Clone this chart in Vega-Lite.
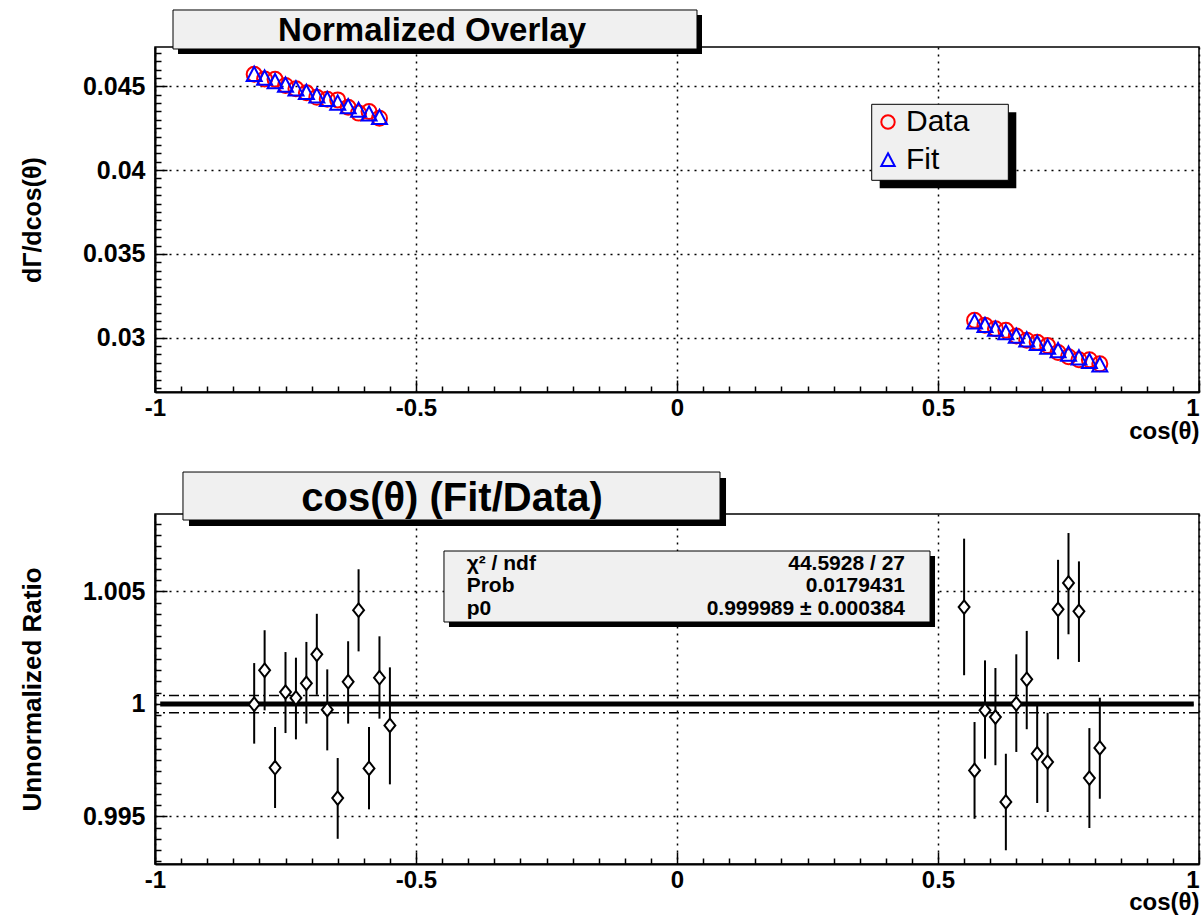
{
  "$schema": "https://vega.github.io/schema/vega-lite/v6.json",
  "background": "white",
  "autosize": {"type": "pad"},
  "padding": {"left": 18, "top": 8, "right": 0, "bottom": 0},
  "bounds": "flush",
  "spacing": 122,
  "config": {
    "font": "Liberation Sans",
    "view": {"stroke": "black", "strokeWidth": 1.5, "fill": "white"},
    "axis": {
      "labelFont": "Liberation Sans", "labelFontWeight": "bold", "labelColor": "black", "labelFontSize": 25,
      "titleFont": "Liberation Sans", "titleFontWeight": "bold", "titleColor": "black",
      "tickColor": "black", "domainColor": "black",
      "labelOverlap": false, "labelFlush": false, "labelBound": false
    }
  },
  "datasets": {
    "box": [{}],
    "title_top": [{"title": "Normalized Overlay"}],
    "title_bottom": [{"title": "cos(θ) (Fit/Data)"}],
    "stats": [{"labels": "χ² / ndf\nProb\np0", "values": "44.5928 / 27\n0.0179431\n0.999989 ± 0.000384"}],
    "fit": [{"p0": 0.999989, "lo": 0.999605, "hi": 1.000373, "xmin": -0.99, "xmax": 0.99}],
    "overlay": [
      {"series": "Data", "cos": -0.81, "value": 0.04572},
      {"series": "Data", "cos": -0.79, "value": 0.04544},
      {"series": "Data", "cos": -0.77, "value": 0.04542},
      {"series": "Data", "cos": -0.75, "value": 0.04505},
      {"series": "Data", "cos": -0.73, "value": 0.04485},
      {"series": "Data", "cos": -0.71, "value": 0.04461},
      {"series": "Data", "cos": -0.69, "value": 0.04434},
      {"series": "Data", "cos": -0.67, "value": 0.04423},
      {"series": "Data", "cos": -0.65, "value": 0.04419},
      {"series": "Data", "cos": -0.63, "value": 0.04375},
      {"series": "Data", "cos": -0.61, "value": 0.04340},
      {"series": "Data", "cos": -0.59, "value": 0.04349},
      {"series": "Data", "cos": -0.57, "value": 0.04310},
      {"series": "Data", "cos": 0.57, "value": 0.03104},
      {"series": "Data", "cos": 0.59, "value": 0.03075},
      {"series": "Data", "cos": 0.61, "value": 0.03054},
      {"series": "Data", "cos": 0.63, "value": 0.03044},
      {"series": "Data", "cos": 0.65, "value": 0.03010},
      {"series": "Data", "cos": 0.67, "value": 0.02985},
      {"series": "Data", "cos": 0.69, "value": 0.02973},
      {"series": "Data", "cos": 0.71, "value": 0.02953},
      {"series": "Data", "cos": 0.73, "value": 0.02912},
      {"series": "Data", "cos": 0.75, "value": 0.02887},
      {"series": "Data", "cos": 0.77, "value": 0.02869},
      {"series": "Data", "cos": 0.79, "value": 0.02869},
      {"series": "Data", "cos": 0.81, "value": 0.02844},
      {"series": "Fit", "cos": -0.81, "value": 0.04572},
      {"series": "Fit", "cos": -0.79, "value": 0.04550},
      {"series": "Fit", "cos": -0.77, "value": 0.04529},
      {"series": "Fit", "cos": -0.75, "value": 0.04508},
      {"series": "Fit", "cos": -0.73, "value": 0.04486},
      {"series": "Fit", "cos": -0.71, "value": 0.04465},
      {"series": "Fit", "cos": -0.69, "value": 0.04443},
      {"series": "Fit", "cos": -0.67, "value": 0.04422},
      {"series": "Fit", "cos": -0.65, "value": 0.04401},
      {"series": "Fit", "cos": -0.63, "value": 0.04379},
      {"series": "Fit", "cos": -0.61, "value": 0.04358},
      {"series": "Fit", "cos": -0.59, "value": 0.04336},
      {"series": "Fit", "cos": -0.57, "value": 0.04315},
      {"series": "Fit", "cos": 0.57, "value": 0.03095},
      {"series": "Fit", "cos": 0.59, "value": 0.03074},
      {"series": "Fit", "cos": 0.61, "value": 0.03052},
      {"series": "Fit", "cos": 0.63, "value": 0.03031},
      {"series": "Fit", "cos": 0.65, "value": 0.03010},
      {"series": "Fit", "cos": 0.67, "value": 0.02988},
      {"series": "Fit", "cos": 0.69, "value": 0.02967},
      {"series": "Fit", "cos": 0.71, "value": 0.02945},
      {"series": "Fit", "cos": 0.73, "value": 0.02924},
      {"series": "Fit", "cos": 0.75, "value": 0.02903},
      {"series": "Fit", "cos": 0.77, "value": 0.02881},
      {"series": "Fit", "cos": 0.79, "value": 0.02860},
      {"series": "Fit", "cos": 0.81, "value": 0.02838}
    ],
    "ratio": [
      {"cos": -0.81, "ratio": 0.99998, "lo": 0.99823, "hi": 1.00181},
      {"cos": -0.79, "ratio": 1.00149, "lo": 0.99971, "hi": 1.00327},
      {"cos": -0.77, "ratio": 0.99716, "lo": 0.99537, "hi": 0.99897},
      {"cos": -0.75, "ratio": 1.00052, "lo": 0.99870, "hi": 1.00230},
      {"cos": -0.73, "ratio": 1.00026, "lo": 0.99842, "hi": 1.00205},
      {"cos": -0.71, "ratio": 1.00091, "lo": 0.99912, "hi": 1.00275},
      {"cos": -0.69, "ratio": 1.00220, "lo": 1.00040, "hi": 1.00400},
      {"cos": -0.67, "ratio": 0.99974, "lo": 0.99793, "hi": 1.00153},
      {"cos": -0.65, "ratio": 0.99581, "lo": 0.99400, "hi": 0.99759},
      {"cos": -0.63, "ratio": 1.00098, "lo": 0.99912, "hi": 1.00278},
      {"cos": -0.61, "ratio": 1.00416, "lo": 1.00233, "hi": 1.00598},
      {"cos": -0.59, "ratio": 0.99713, "lo": 0.99531, "hi": 0.99897},
      {"cos": -0.57, "ratio": 1.00116, "lo": 0.99934, "hi": 1.00300},
      {"cos": -0.55, "ratio": 0.99904, "lo": 0.99642, "hi": 1.00162},
      {"cos": 0.55, "ratio": 1.00430, "lo": 1.00127, "hi": 1.00734},
      {"cos": 0.57, "ratio": 0.99704, "lo": 0.99489, "hi": 0.99919},
      {"cos": 0.59, "ratio": 0.99971, "lo": 0.99756, "hi": 1.00193},
      {"cos": 0.61, "ratio": 0.99941, "lo": 0.99727, "hi": 1.00159},
      {"cos": 0.63, "ratio": 0.99564, "lo": 0.99349, "hi": 0.99778},
      {"cos": 0.65, "ratio": 1.00000, "lo": 0.99786, "hi": 1.00220},
      {"cos": 0.67, "ratio": 1.00109, "lo": 0.99887, "hi": 1.00324},
      {"cos": 0.69, "ratio": 0.99778, "lo": 0.99559, "hi": 0.99996},
      {"cos": 0.71, "ratio": 0.99741, "lo": 0.99519, "hi": 0.99960},
      {"cos": 0.73, "ratio": 1.00420, "lo": 1.00198, "hi": 1.00640},
      {"cos": 0.75, "ratio": 1.00537, "lo": 1.00309, "hi": 1.00759},
      {"cos": 0.77, "ratio": 1.00411, "lo": 1.00186, "hi": 1.00633},
      {"cos": 0.79, "ratio": 0.99670, "lo": 0.99448, "hi": 0.99892},
      {"cos": 0.81, "ratio": 0.99804, "lo": 0.99578, "hi": 1.00027}
    ]
  },
  "vconcat": [
    {
      "width": 1044,
      "height": 345,
      "resolve": {"axis": {"x": "independent", "y": "independent"}},
      "layer": [
        {
          "data": {"name": "box"},
          "mark": {"type": "rect", "fill": "black"},
          "encoding": {
            "x": {"datum": -0.9559, "type": "quantitative", "axis": {"orient": "bottom", "values": [-0.95,-0.9,-0.85,-0.8,-0.75,-0.7,-0.65,-0.6,-0.55,-0.45,-0.4,-0.35,-0.3,-0.25,-0.2,-0.15,-0.1,-0.05,0.05,0.1,0.15,0.2,0.25,0.3,0.35,0.4,0.45,0.55,0.6,0.65,0.7,0.75,0.8,0.85,0.9,0.95], "labels": false, "grid": false, "domain": false, "title": null, "tickSize": -6, "tickWidth": 1.5}},
            "x2": {"datum": 0.0479},
            "y": {"datum": 0.049254, "type": "quantitative", "axis": {"orient": "left", "values": [0.027,0.0275,0.028,0.0285,0.029,0.0295,0.0305,0.031,0.0315,0.032,0.0325,0.033,0.0335,0.034,0.0345,0.0355,0.036,0.0365,0.037,0.0375,0.038,0.0385,0.039,0.0395,0.0405,0.041,0.0415,0.042,0.0425,0.043,0.0435,0.044,0.0445,0.0455,0.046,0.0465,0.047], "labels": false, "grid": false, "domain": false, "title": null, "tickSize": -6, "tickWidth": 1.5}},
            "y2": {"datum": 0.046927}
          }
        },
        {
          "data": {"name": "title_top"},
          "mark": {"type": "rect", "fill": "#f0f0f0", "stroke": "black", "strokeWidth": 1},
          "encoding": {
            "x": {"datum": -0.9655, "type": "quantitative", "axis": null},
            "x2": {"datum": 0.0383},
            "y": {"datum": 0.049553, "type": "quantitative", "axis": null},
            "y2": {"datum": 0.047226}
          }
        },
        {
          "data": {"name": "title_top"},
          "mark": {"type": "text", "fontSize": 33, "fontWeight": "bold", "align": "center", "baseline": "middle", "color": "black"},
          "encoding": {
            "x": {"datum": -0.4693, "type": "quantitative", "axis": null},
            "y": {"datum": 0.0483, "type": "quantitative", "axis": null},
            "text": {"field": "title", "type": "nominal"}
          }
        },
        {
          "data": {"name": "box"},
          "mark": {"type": "rect", "fill": "black"},
          "encoding": {
            "x": {"datum": 0.3883, "type": "quantitative", "axis": null},
            "x2": {"datum": 0.6500},
            "y": {"datum": 0.043449, "type": "quantitative", "axis": null},
            "y2": {"datum": 0.038914}
          }
        },
        {
          "data": {"name": "box"},
          "mark": {"type": "rect", "fill": "#f0f0f0", "stroke": "black", "strokeWidth": 1},
          "encoding": {
            "x": {"datum": 0.3730, "type": "quantitative", "axis": null},
            "x2": {"datum": 0.6347},
            "y": {"datum": 0.043926, "type": "quantitative", "axis": null},
            "y2": {"datum": 0.039391}
          }
        },
        {
          "data": {"name": "overlay"},
          "mark": {"type": "point", "filled": false, "strokeWidth": 2, "size": 225, "opacity": 1},
          "encoding": {
            "x": {"field": "cos", "type": "quantitative", "scale": {"domain": [-1, 1], "nice": false, "zero": false},
              "axis": {"orient": "bottom", "values": [-1, -0.5, 0, 0.5, 1], "labelExpr": "'' + datum.value",
                "labelAlign": {"condition": {"test": "datum.value == 1", "value": "right"}, "value": "center"},
                "labelFontSize": 24, "labelPadding": 16, "tickSize": -12, "tickWidth": 1.5, "domainWidth": 2,
                "grid": true, "gridColor": "black", "gridDash": [2, 5], "gridWidth": 1.5, "gridOpacity": 1,
                "title": "cos(θ)", "titleAnchor": "end", "titleFontSize": 24, "titlePadding": -1}},
            "y": {"field": "value", "type": "quantitative", "scale": {"domain": [0.02676, 0.047345], "nice": false, "zero": false},
              "axis": {"orient": "left", "values": [0.03, 0.035, 0.04, 0.045], "labelExpr": "'' + datum.value",
                "labelPadding": 22, "tickSize": -12, "tickWidth": 1.5, "domainWidth": 2,
                "grid": true, "gridColor": "black", "gridDash": [2, 5], "gridWidth": 1.5, "gridOpacity": 1,
                "title": "dΓ/dcos(θ)", "titleFontSize": 25, "titlePadding": 38, "minExtent": 72, "maxExtent": 72}},
            "color": {"field": "series", "type": "nominal", "scale": {"domain": ["Data", "Fit"], "range": ["#ff0000", "#0000ff"]},
              "legend": {"orient": "none", "legendX": 718, "legendY": 60, "title": null, "padding": 0,
                "labelFontSize": 30, "labelFont": "Liberation Sans", "labelColor": "black", "labelOffset": 3,
                "rowPadding": 8, "symbolSize": 180, "symbolStrokeWidth": 2, "symbolOpacity": 1}},
            "shape": {"field": "series", "type": "nominal", "scale": {"domain": ["Data", "Fit"], "range": ["circle", "M0,-1L1,0.9L-1,0.9Z"]}}
          }
        }
      ]
    },
    {
      "width": 1044,
      "height": 350,
      "resolve": {"axis": {"x": "independent", "y": "independent"}},
      "layer": [
        {
          "data": {"name": "box"},
          "mark": {"type": "rect", "fill": "black"},
          "encoding": {
            "x": {"datum": -0.9349, "type": "quantitative", "axis": {"orient": "bottom", "values": [-0.95,-0.9,-0.85,-0.8,-0.75,-0.7,-0.65,-0.6,-0.55,-0.45,-0.4,-0.35,-0.3,-0.25,-0.2,-0.15,-0.1,-0.05,0.05,0.1,0.15,0.2,0.25,0.3,0.35,0.4,0.45,0.55,0.6,0.65,0.7,0.75,0.8,0.85,0.9,0.95], "labels": false, "grid": false, "domain": false, "title": null, "tickSize": -6, "tickWidth": 1.5}},
            "x2": {"datum": 0.0939},
            "y": {"datum": 1.010036, "type": "quantitative", "axis": {"orient": "left", "values": [0.993,0.9935,0.994,0.9945,0.9955,0.996,0.9965,0.997,0.9975,0.998,0.9985,0.999,0.9995,1.0005,1.001,1.0015,1.002,1.0025,1.003,1.0035,1.004,1.0045,1.0055,1.006,1.0065,1.007,1.0075,1.008], "labels": false, "grid": false, "domain": false, "title": null, "tickSize": -6, "tickWidth": 1.5}},
            "y2": {"datum": 1.007902}
          }
        },
        {
          "data": {"name": "title_bottom"},
          "mark": {"type": "rect", "fill": "#f0f0f0", "stroke": "black", "strokeWidth": 1},
          "encoding": {
            "x": {"datum": -0.9464, "type": "quantitative", "axis": null},
            "x2": {"datum": 0.0824},
            "y": {"datum": 1.010302, "type": "quantitative", "axis": null},
            "y2": {"datum": 1.008169}
          }
        },
        {
          "data": {"name": "title_bottom"},
          "mark": {"type": "text", "fontSize": 40, "fontWeight": "bold", "align": "center", "baseline": "middle", "color": "black"},
          "encoding": {
            "x": {"datum": -0.431, "type": "quantitative", "axis": null},
            "y": {"datum": 1.009102, "type": "quantitative", "axis": null},
            "text": {"field": "title", "type": "nominal"}
          }
        },
        {
          "data": {"name": "box"},
          "mark": {"type": "rect", "fill": "black"},
          "encoding": {
            "x": {"datum": -0.4368, "type": "quantitative", "axis": null},
            "x2": {"datum": 0.4943},
            "y": {"datum": 1.006569, "type": "quantitative", "axis": null},
            "y2": {"datum": 1.003413}
          }
        },
        {
          "data": {"name": "box"},
          "mark": {"type": "rect", "fill": "#f0f0f0", "stroke": "black", "strokeWidth": 1},
          "encoding": {
            "x": {"datum": -0.4464, "type": "quantitative", "axis": null},
            "x2": {"datum": 0.4847},
            "y": {"datum": 1.006791, "type": "quantitative", "axis": null},
            "y2": {"datum": 1.003636}
          }
        },
        {
          "data": {"name": "stats"},
          "mark": {"type": "text", "fontSize": 21, "fontWeight": "bold", "align": "left", "baseline": "middle", "lineBreak": "\n", "lineHeight": 22.5, "color": "black"},
          "encoding": {
            "x": {"datum": -0.4029, "type": "quantitative", "axis": null},
            "y": {"datum": 1.006227, "type": "quantitative", "axis": null},
            "text": {"field": "labels", "type": "nominal"}
          }
        },
        {
          "data": {"name": "stats"},
          "mark": {"type": "text", "fontSize": 21, "fontWeight": "bold", "align": "right", "baseline": "middle", "lineBreak": "\n", "lineHeight": 22.5, "color": "black"},
          "encoding": {
            "x": {"datum": 0.4368, "type": "quantitative", "axis": null},
            "y": {"datum": 1.006227, "type": "quantitative", "axis": null},
            "text": {"field": "values", "type": "nominal"}
          }
        },
        {
          "data": {"name": "fit"},
          "mark": {"type": "rule", "strokeWidth": 1.5, "strokeDash": [10, 4, 2, 4], "color": "black"},
          "encoding": {"y": {"field": "lo", "type": "quantitative", "axis": null}}
        },
        {
          "data": {"name": "fit"},
          "mark": {"type": "rule", "strokeWidth": 1.5, "strokeDash": [10, 4, 2, 4], "color": "black"},
          "encoding": {"y": {"field": "hi", "type": "quantitative", "axis": null}}
        },
        {
          "data": {"name": "fit"},
          "mark": {"type": "rule", "strokeWidth": 5, "color": "black"},
          "encoding": {
            "x": {"field": "xmin", "type": "quantitative", "axis": null},
            "x2": {"field": "xmax"},
            "y": {"field": "p0", "type": "quantitative", "axis": null}
          }
        },
        {
          "data": {"name": "ratio"},
          "mark": {"type": "rule", "strokeWidth": 2, "color": "black"},
          "encoding": {
            "x": {"field": "cos", "type": "quantitative", "axis": null},
            "y": {"field": "lo", "type": "quantitative", "axis": null},
            "y2": {"field": "hi"}
          }
        },
        {
          "data": {"name": "ratio"},
          "mark": {"type": "point", "shape": "M0,-1L0.8,0L0,1L-0.8,0Z", "size": 185, "filled": true, "fill": "white", "stroke": "black", "strokeWidth": 2, "opacity": 1},
          "encoding": {
            "x": {"field": "cos", "type": "quantitative", "scale": {"domain": [-1, 1], "nice": false, "zero": false},
              "axis": {"orient": "bottom", "values": [-1, -0.5, 0, 0.5, 1], "labelExpr": "'' + datum.value",
                "labelAlign": {"condition": {"test": "datum.value == 1", "value": "right"}, "value": "center"},
                "labelFontSize": 24, "labelPadding": 16, "tickSize": -12, "tickWidth": 1.5, "domainWidth": 2,
                "grid": true, "gridColor": "black", "gridDash": [2, 5], "gridWidth": 1.5, "gridOpacity": 1,
                "title": "cos(θ)", "titleAnchor": "end", "titleFontSize": 24, "titlePadding": -2}},
            "y": {"field": "ratio", "type": "quantitative", "scale": {"domain": [0.99288, 1.008436], "nice": false, "zero": false},
              "axis": {"orient": "left", "values": [0.995, 1, 1.005], "labelExpr": "'' + datum.value",
                "labelPadding": 22, "tickSize": -12, "tickWidth": 1.5, "domainWidth": 2,
                "grid": true, "gridColor": "black", "gridDash": [2, 5], "gridWidth": 1.5, "gridOpacity": 1,
                "title": "Unnormalized Ratio", "titleFontSize": 26, "titlePadding": 38, "minExtent": 72, "maxExtent": 72}}
          }
        }
      ]
    }
  ]
}
